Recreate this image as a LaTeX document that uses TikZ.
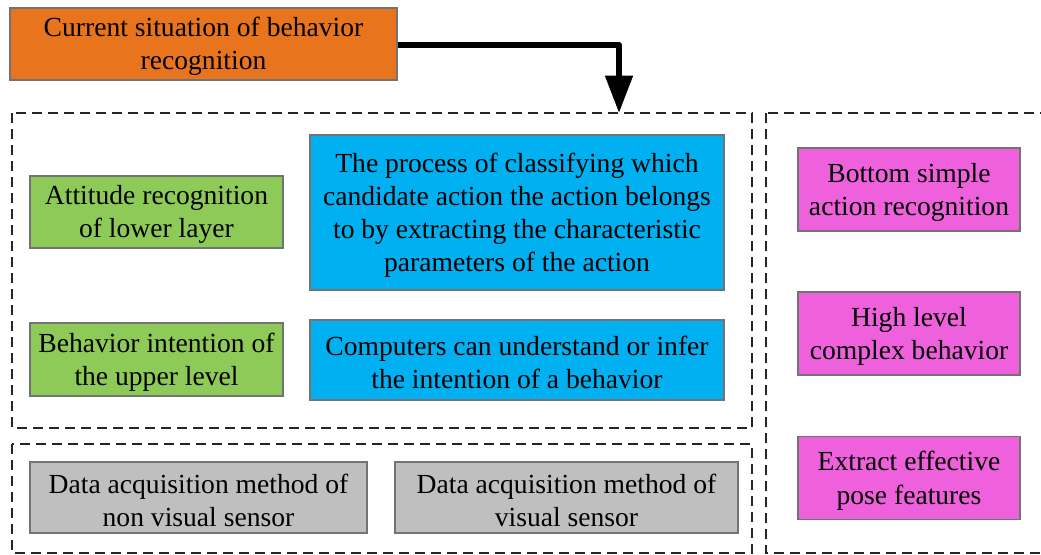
\documentclass[tikz,border=0pt]{standalone}
\usepackage{fontspec}
\setmainfont{Liberation Serif}
\usetikzlibrary{arrows.meta}

\definecolor{boxorange}{RGB}{233,116,30}
\definecolor{boxgreen}{RGB}{142,202,88}
\definecolor{boxblue}{RGB}{0,176,240}
\definecolor{boxpink}{RGB}{239,96,220}
\definecolor{boxgray}{RGB}{191,191,191}

\tikzset{
  card/.style={draw=black!55, line width=0.8pt, inner sep=0pt},
  cardtext/.style={align=center, inner sep=0pt, yshift=-2pt,
    font=\fontsize{20.7}{24.9}\selectfont},
  panel/.style={draw=black!85, line width=1.4pt, dash pattern=on 7.5pt off 4.5pt},
  flow/.style={line width=4.4pt, line join=round,
    -{Triangle[width=20pt,length=28pt]}},
}

\begin{document}
\begin{tikzpicture}[x=0.75pt,y=-0.75pt]
  \useasboundingbox (0,0) rectangle (1041,555);
  \clip (0,0) rectangle (1041,555);
  \fill[white] (0,0) rectangle (1041,555);

  % dashed panels
  \draw[panel] (12,113) rectangle (752,428);
  \draw[panel] (12,444) rectangle (752,553);
  \draw[panel] (766,113) rectangle (1052,553);

  % header
  \node[card, fill=boxorange, minimum width=290.25pt, minimum height=54pt,
    label={[cardtext]center:{Current situation of behavior\\recognition}}]
    (cur) at (203.5,44) {};

  % upper panel
  \node[card, fill=boxgreen, minimum width=189.75pt, minimum height=54pt,
    label={[cardtext]center:{Attitude recognition\\of lower layer}}]
    (low) at (156.5,212) {};
  \node[card, fill=boxgreen, minimum width=189.75pt, minimum height=54.75pt,
    label={[cardtext]center:{Behavior intention of\\the upper level}}]
    (up) at (156.5,359.5) {};
  \node[card, fill=boxblue, minimum width=310.5pt, minimum height=116.25pt,
    label={[cardtext]center:{The process of classifying which\\candidate action the action belongs\\to by extracting the characteristic\\parameters of the action}}]
    (cls) at (517,212.5) {};
  \node[card, fill=boxblue, minimum width=310.5pt, minimum height=60pt,
    label={[cardtext]center:{Computers can understand or infer\\the intention of a behavior}}]
    (inf) at (517,360) {};

  % lower panel
  \node[card, fill=boxgray, minimum width=252.75pt, minimum height=53.25pt,
    label={[cardtext]center:{Data acquisition method of\\non visual sensor}}]
    (nonvis) at (198.5,497.5) {};
  \node[card, fill=boxgray, minimum width=257.25pt, minimum height=53.25pt,
    label={[cardtext]center:{Data acquisition method of\\visual sensor}}]
    (vis) at (566.5,497.5) {};

  % right panel
  \node[card, fill=boxpink, minimum width=166.5pt, minimum height=62.25pt,
    label={[cardtext]center:{Bottom simple\\action recognition}}]
    (simple) at (909,189.5) {};
  \node[card, fill=boxpink, minimum width=166.5pt, minimum height=62.25pt,
    label={[cardtext]center:{High level\\complex behavior}}]
    (complex) at (909,333.5) {};
  \node[card, fill=boxpink, minimum width=166.5pt, minimum height=62.25pt,
    label={[cardtext]center:{Extract effective\\pose features}}]
    (pose) at (909,478) {};

  % connector from the header into the upper panel
  \coordinate (entry) at (619,113);
  \draw[flow] (cur.east |- 0,45) -| (entry);
\end{tikzpicture}
\end{document}
